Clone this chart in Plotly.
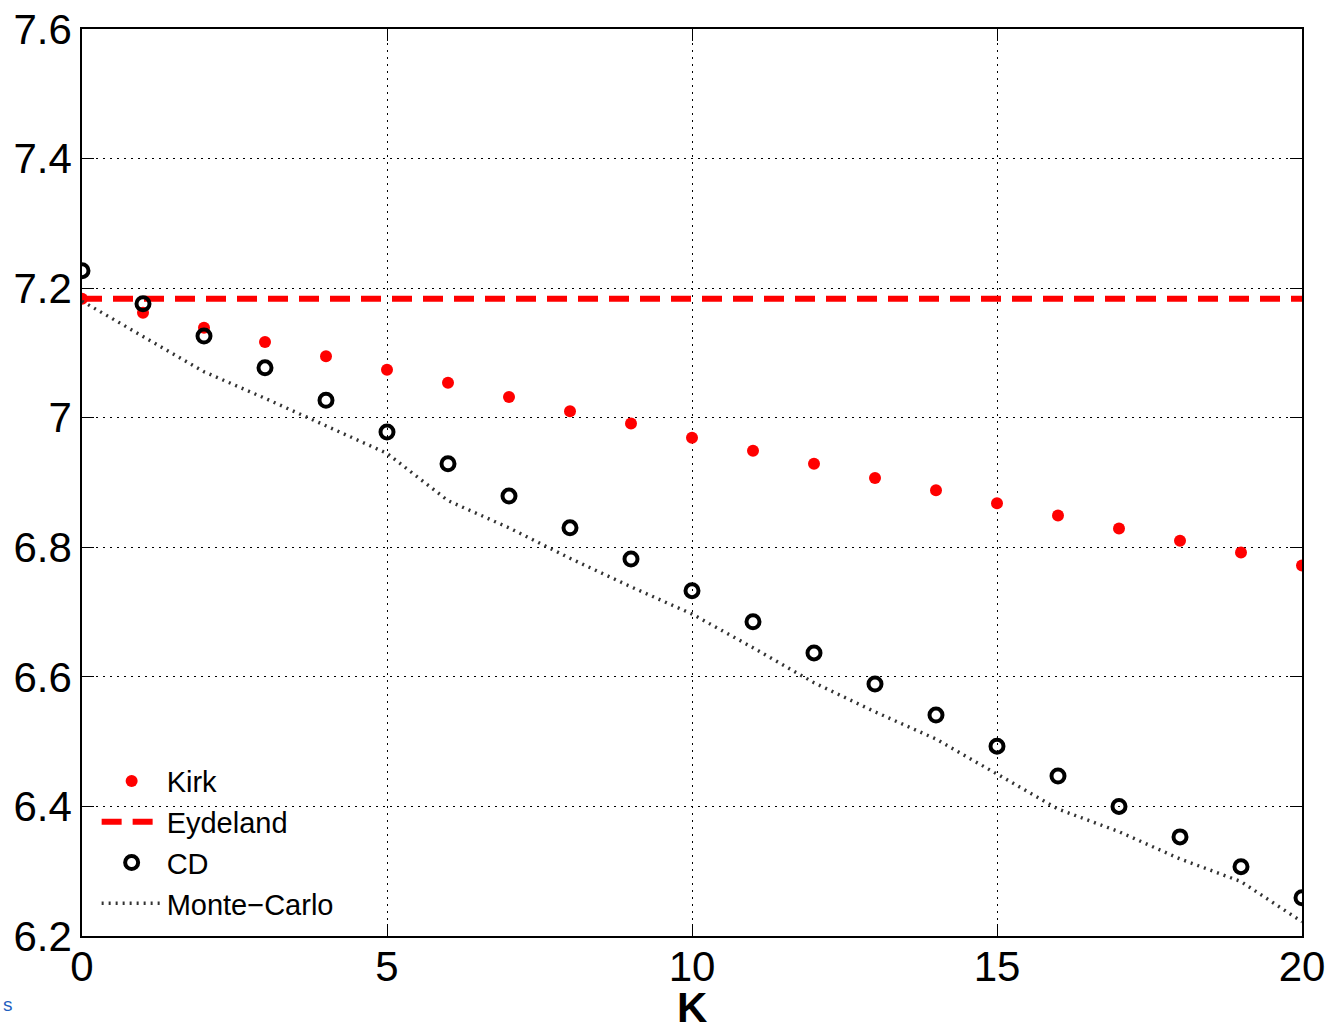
import plotly.graph_objects as go

K = list(range(0, 21))
kirk = [7.1835, 7.162, 7.139, 7.117, 7.095, 7.074, 7.054, 7.032, 7.010, 6.991, 6.969,
        6.949, 6.929, 6.907, 6.888, 6.868, 6.849, 6.829, 6.810, 6.792, 6.772]
eydeland_value = 7.1835
cd = [7.227, 7.176, 7.126, 7.077, 7.027, 6.978, 6.929, 6.879, 6.830, 6.782, 6.733,
      6.685, 6.637, 6.589, 6.541, 6.493, 6.447, 6.400, 6.353, 6.307, 6.259]
monte_carlo = [7.180, 7.126, 7.071, 7.030, 6.987, 6.945, 6.872, 6.830, 6.783, 6.739, 6.697,
               6.645, 6.591, 6.546, 6.504, 6.450, 6.396, 6.361, 6.319, 6.284, 6.222]

x_ticks = [0, 5, 10, 15, 20]
y_ticks = [6.2, 6.4, 6.6, 6.8, 7.0, 7.2, 7.4, 7.6]
y_ticktext = ["6.2", "6.4", "6.6", "6.8", "7", "7.2", "7.4", "7.6"]

FONT = "Liberation Sans, Arial, sans-serif"

fig = go.Figure()
fig.add_trace(go.Scatter(
    x=K, y=kirk, mode="markers", name="Kirk",
    marker=dict(symbol="circle", size=12, color="#ff0000", line=dict(width=0)),
))
fig.add_trace(go.Scatter(
    x=[K[0], K[-1]], y=[eydeland_value, eydeland_value], mode="lines", name="Eydeland",
    line=dict(color="#ff0000", width=6, dash="20px,11px"),
))
fig.add_trace(go.Scatter(
    x=K, y=cd, mode="markers", name="CD",
    marker=dict(symbol="circle-open", size=13, color="#000000", line=dict(width=4, color="#000000")),
))
fig.add_trace(go.Scatter(
    x=K, y=monte_carlo, mode="lines", name="Monte\u2212Carlo",
    line=dict(color="#333333", width=3.4, dash="2px,5px"),
))

axis_common = dict(
    showline=True, linecolor="#000000", linewidth=1.5, mirror="allticks",
    ticks="inside", ticklen=12, tickwidth=1, tickcolor="#000000",
    showgrid=True, gridcolor="#000000", gridwidth=1, griddash="2px,5px",
    zeroline=False, automargin=False,
    tickfont=dict(family=FONT, size=42, color="#000000"),
)

fig.update_xaxes(
    range=[0, 20], tickvals=x_ticks, ticktext=[str(v) for v in x_ticks],
    ticklabelstandoff=-7,
    **axis_common,
)
fig.update_yaxes(
    range=[6.2, 7.6], tickvals=y_ticks, ticktext=y_ticktext,
    **axis_common,
)

# axis title "K" (placed below the tick labels)
fig.add_annotation(
    text="<b>K</b>", xref="paper", yref="paper", x=0.5, y=-0.0785,
    xanchor="center", yanchor="middle", showarrow=False,
    font=dict(family=FONT, size=42, color="#000000"),
)

fig.add_annotation(
    text="s", xref="paper", yref="paper", x=-0.0665, y=-0.076,
    xanchor="left", yanchor="middle", showarrow=False,
    font=dict(family=FONT, size=19, color="#1f5fbf"),
)

fig.update_layout(
    width=1327, height=1026,
    margin=dict(l=82, r=25, t=29, b=90),
    paper_bgcolor="white", plot_bgcolor="white",
    showlegend=True,
    legend=dict(
        x=0.012, y=0.008, xanchor="left", yanchor="bottom",
        bgcolor="rgba(0,0,0,0)", borderwidth=0,
        font=dict(family=FONT, size=29, color="#000000"),
        tracegroupgap=0, itemwidth=60,
    ),
)

fig.write_html("out.html")
